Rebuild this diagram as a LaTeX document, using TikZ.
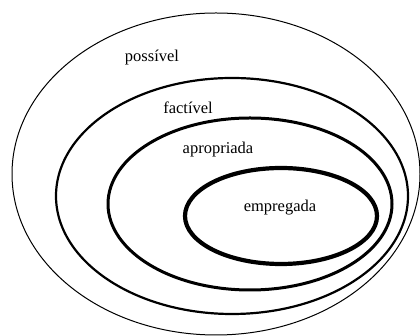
\documentclass[tikz,border=0pt]{standalone}
\usepackage{fontspec}
\setmainfont{Liberation Serif}
\usepackage{tikz}
\usetikzlibrary{backgrounds}

\begin{document}
\begin{tikzpicture}[
    x=1pt, y=1pt,
    show background rectangle,
    background rectangle/.style={fill=white, draw=none},
    inner frame sep=0pt,
    setline/.style={draw=black},
    setlabel/.style={font=\fontsize{16.5}{18}\selectfont, text=black, inner sep=0pt}
]
\useasboundingbox (0,0) rectangle (420,336);

% ================================================================
% Mengen: von außen nach innen, immer dicker
% ================================================================

% possivel (äußerste Menge)
\draw[setline, line width=1pt] (216,162) ellipse [x radius=204, y radius=161];

% factivel
\draw[setline, line width=2.2pt] (232,140) ellipse [x radius=176, y radius=118];

% apropriada
\draw[setline, line width=3pt] (250,132) ellipse [x radius=142, y radius=86];

% empregada (innerste Menge)
\draw[setline, line width=4.2pt] (281,120) ellipse [x radius=96, y radius=48];

% ================================================================
% Beschriftungen
% ================================================================
\node[setlabel] (lbl_possivel)   at (152,278) {possível};
\node[setlabel] (lbl_factivel)   at (188,228) {factível};
\node[setlabel] (lbl_apropriada) at (218,186) {apropriada};
\node[setlabel] (lbl_empregada)  at (280,128) {empregada};

\end{tikzpicture}
\end{document}
